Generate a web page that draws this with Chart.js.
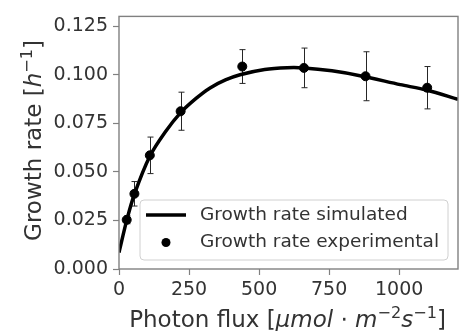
<!DOCTYPE html>
<html>
<head>
  <title>Growth rate vs photon flux</title>
  <script src="https://cdn.jsdelivr.net/npm/chart.js@4/dist/chart.umd.js"></script>
  <style>
    html, body { margin: 0; padding: 0; background: #fff; }
  </style>
</head>
<body>
  <canvas id="growthChart" width="470" height="331"></canvas>
  <script>
    // experimental points (photon flux, growth rate, std)
    var expFlux = [27.5, 55, 110, 220, 440, 660, 880, 1100];
    var expRate = [0.0253, 0.0387, 0.0585, 0.0812, 0.1042, 0.1035, 0.0992, 0.0933];
    var expErr = [0.002, 0.0063, 0.0094, 0.0098, 0.0087, 0.0102, 0.0126, 0.0109];

    // simulated curve
    var simFlux = [0, 27.5, 55, 110, 165, 220, 275, 325, 380, 432, 520, 600, 660, 760, 860, 1004, 1100, 1210];
    var simRate = [0.0085, 0.025, 0.0385, 0.058, 0.0705, 0.0805, 0.0878, 0.0932, 0.0973, 0.1000, 0.1027, 0.1036, 0.1035, 0.102, 0.0995, 0.0949, 0.092, 0.0873];

    var xTicks = [0, 250, 500, 750, 1000];
    var yTicks = [0, 0.025, 0.05, 0.075, 0.1, 0.125];

    var FONT = '"DejaVu Sans", "Liberation Sans", sans-serif';
    var TEXT = '#333333';
    var SPINE = '#808080';

    var ctx = document.getElementById('growthChart').getContext('2d');

    // draw a line of text made of styled segments (italic / superscript)
    function drawRich(c, segs, size, cx, baseY) {
      var total = 0;
      segs.forEach(function (s) {
        var fs = s.sup ? size * 0.7 : size;
        c.font = (s.it ? 'italic ' : '') + fs + 'px ' + FONT;
        s.w = c.measureText(s.t).width;
        total += s.w;
      });
      var x = cx - total / 2;
      c.textAlign = 'left';
      c.textBaseline = 'alphabetic';
      segs.forEach(function (s) {
        var fs = s.sup ? size * 0.7 : size;
        c.font = (s.it ? 'italic ' : '') + fs + 'px ' + FONT;
        c.fillText(s.t, x, baseY - (s.sup ? size * 0.38 : 0));
        x += s.w;
      });
    }

    var decorations = {
      id: 'decorations',
      beforeDatasetsDraw: function (chart) {
        var c = chart.ctx;
        var xs = chart.scales.x, ys = chart.scales.y;
        c.save();
        c.strokeStyle = '#262626';
        c.lineWidth = 1;
        for (var i = 0; i < expFlux.length; i++) {
          var px = Math.round(xs.getPixelForValue(expFlux[i])) + 0.5;
          var top = ys.getPixelForValue(expRate[i] + expErr[i]);
          var bot = ys.getPixelForValue(expRate[i] - expErr[i]);
          c.beginPath();
          c.moveTo(px, top); c.lineTo(px, bot);
          c.moveTo(px - 3, top); c.lineTo(px + 3, top);
          c.moveTo(px - 3, bot); c.lineTo(px + 3, bot);
          c.stroke();
        }
        c.restore();
      },
      afterDraw: function (chart) {
        var c = chart.ctx;
        var a = chart.chartArea;
        c.save();
        // frame
        c.strokeStyle = SPINE;
        c.lineWidth = 1.4;
        c.strokeRect(a.left, a.top, a.right - a.left, a.bottom - a.top);

        // legend
        var lx = 140, ly = 200, lw = 308, lh = 60, r = 4;
        c.beginPath();
        c.moveTo(lx + r, ly);
        c.arcTo(lx + lw, ly, lx + lw, ly + lh, r);
        c.arcTo(lx + lw, ly + lh, lx, ly + lh, r);
        c.arcTo(lx, ly + lh, lx, ly, r);
        c.arcTo(lx, ly, lx + lw, ly, r);
        c.closePath();
        c.fillStyle = 'rgba(255,255,255,0.8)';
        c.fill();
        c.strokeStyle = '#d0d0d0';
        c.lineWidth = 1;
        c.stroke();

        var ds = chart.data.datasets;
        c.strokeStyle = '#000';
        c.lineWidth = 3.5;
        c.beginPath();
        c.moveTo(146, 215); c.lineTo(186, 215);
        c.stroke();
        c.fillStyle = '#000';
        c.beginPath();
        c.arc(166, 242.5, 4.5, 0, Math.PI * 2);
        c.fill();

        c.fillStyle = TEXT;
        c.font = '18.5px ' + FONT;
        c.textAlign = 'left';
        c.textBaseline = 'middle';
        c.fillText(ds[0].label, 200, 215);
        c.fillText(ds[1].label, 200, 242.5);

        // axis titles
        drawRich(c, [
          { t: 'Photon flux [' },
          { t: '\u03bcmol', it: true },
          { t: ' \u22c5 ' },
          { t: 'm', it: true },
          { t: '\u22122', sup: true },
          { t: 's', it: true },
          { t: '\u22121', sup: true },
          { t: ']' }
        ], 23, 287.5, 326.5);

        c.translate(40.5, 140.5);
        c.rotate(-Math.PI / 2);
        drawRich(c, [
          { t: 'Growth rate [' },
          { t: 'h', it: true },
          { t: '\u22121', sup: true },
          { t: ']' }
        ], 23, 0, 0);
        c.restore();
      }
    };

    new Chart(ctx, {
      type: 'scatter',
      data: {
        datasets: [{
          label: 'Growth rate simulated',
          data: simFlux.map(function (v, i) { return { x: v, y: simRate[i] }; }),
          showLine: true,
          borderColor: '#000',
          borderWidth: 3.5,
          pointRadius: 0,
          tension: 0.3,
          order: 2
        }, {
          label: 'Growth rate experimental',
          data: expFlux.map(function (v, i) { return { x: v, y: expRate[i] }; }),
          backgroundColor: '#000',
          borderColor: '#000',
          pointRadius: 4.5,
          order: 1
        }]
      },
      options: {
        responsive: false,
        animation: false,
        layout: { padding: { top: 9, right: 12, left: 0, bottom: 0 } },
        plugins: {
          legend: { display: false },
          tooltip: { enabled: false }
        },
        scales: {
          x: {
            type: 'linear',
            min: 0,
            max: 1210,
            afterBuildTicks: function (s) { s.ticks = xTicks.map(function (v) { return { value: v }; }); },
            afterFit: function (s) { s.height = 62; },
            grid: { drawOnChartArea: false, drawTicks: true, tickLength: 6, tickColor: SPINE, tickWidth: 1.2 },
            border: { display: false },
            ticks: {
              color: TEXT,
              padding: 4,
              maxRotation: 0,
              font: { family: FONT, size: 19 },
              callback: function (v) { return String(v); }
            }
          },
          y: {
            type: 'linear',
            min: 0,
            max: 0.13,
            afterBuildTicks: function (s) { s.ticks = yTicks.map(function (v) { return { value: v }; }); },
            afterFit: function (s) { s.width = 119; },
            grid: { drawOnChartArea: false, drawTicks: true, tickLength: 6, tickColor: SPINE, tickWidth: 1.2 },
            border: { display: false },
            ticks: {
              color: TEXT,
              padding: 5,
              font: { family: FONT, size: 19 },
              callback: function (v) { return v.toFixed(3); }
            }
          }
        }
      },
      plugins: [decorations]
    });
  </script>
</body>
</html>
